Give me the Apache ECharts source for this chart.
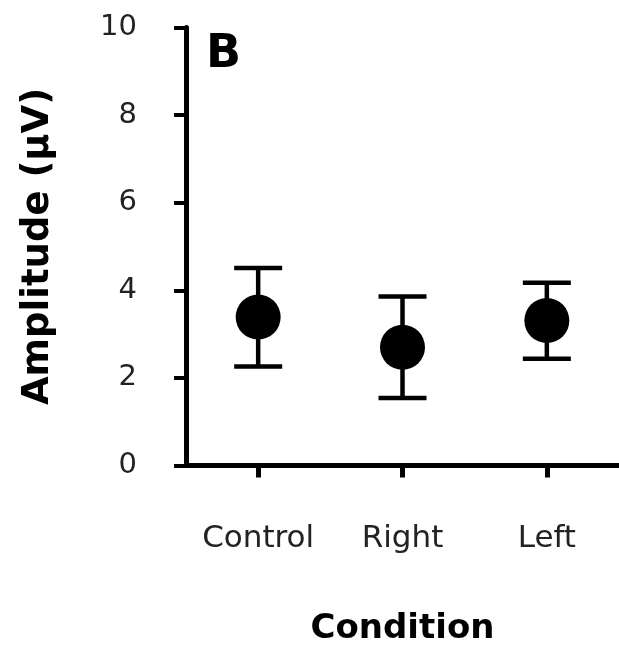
<!DOCTYPE html>
<html>
<head>
<meta charset="utf-8">
<script src="https://cdn.jsdelivr.net/npm/echarts@6/dist/echarts.min.js"></script>
<style>html,body{margin:0;padding:0;background:#fff}#c{width:619px;height:652px}</style>
</head>
<body>
<div id="c"></div>
<script>
const categories = ['Control', 'Right', 'Left'];
const means = [3.39, 2.70, 3.31];
const upper = [4.51, 3.86, 4.17];
const lower = [2.26, 1.54, 2.44];
const yTicks = [0, 2, 4, 6, 8, 10];
const panelLabel = 'B';
const yName = 'Amplitude (µV)';
const xName = 'Condition';

const FONT = 'DejaVu Sans';
const chart = echarts.init(document.getElementById('c'), null, {renderer: 'canvas'});
chart.setOption({
  animation: false,
  backgroundColor: '#fff',
  grid: {left: 186, right: -6.5, top: 27.5, bottom: 186.5, containLabel: false},
  xAxis: {
    type: 'category',
    data: categories,
    boundaryGap: true,
    axisLine: {lineStyle: {color: '#000', width: 5}},
    axisTick: {show: true, alignWithLabel: true, interval: 0, length: 12, lineStyle: {color: '#000', width: 5}},
    axisLabel: {color: '#222', fontFamily: FONT, fontSize: 31, margin: 58, interval: 0, hideOverlap: false},
    name: xName,
    nameLocation: 'middle',
    nameGap: 147,
    nameTextStyle: {color: '#000', fontFamily: FONT, fontSize: 34, fontWeight: 'bold'}
  },
  yAxis: {
    type: 'value',
    min: yTicks[0],
    max: yTicks[yTicks.length - 1],
    interval: 2,
    splitLine: {show: false},
    axisLine: {show: true, lineStyle: {color: '#000', width: 5}},
    axisTick: {show: true, length: 12, lineStyle: {color: '#000', width: 4}},
    axisLabel: {color: '#222', fontFamily: FONT, fontSize: 29, margin: 49},
    name: yName,
    nameLocation: 'middle',
    nameGap: 129,
    nameRotate: 90,
    nameTextStyle: {color: '#000', fontFamily: FONT, fontSize: 37, fontWeight: 'bold'}
  },
  graphic: [{
    type: 'text', left: 206, top: 32,
    style: {text: panelLabel, fill: '#000', font: 'bold 46px "DejaVu Sans"'}
  }],
  series: [{
    type: 'custom',
    data: categories.map((c, i) => [i, lower[i], upper[i]]),
    renderItem: function (params, api) {
      const x = api.value(0);
      const lo = api.coord([x, api.value(1)]);
      const hi = api.coord([x, api.value(2)]);
      const hw = 24;
      const st = {stroke: '#000', lineWidth: 4.5};
      return {type: 'group', children: [
        {type: 'line', shape: {x1: lo[0], y1: lo[1], x2: hi[0], y2: hi[1]}, style: st},
        {type: 'line', shape: {x1: hi[0] - hw, y1: hi[1], x2: hi[0] + hw, y2: hi[1]}, style: st},
        {type: 'line', shape: {x1: lo[0] - hw, y1: lo[1], x2: lo[0] + hw, y2: lo[1]}, style: st}
      ]};
    },
    z: 2
  }, {
    type: 'scatter',
    data: means,
    symbol: 'circle',
    symbolSize: 45,
    itemStyle: {color: '#000', opacity: 1},
    z: 3
  }]
});
</script>
</body>
</html>
